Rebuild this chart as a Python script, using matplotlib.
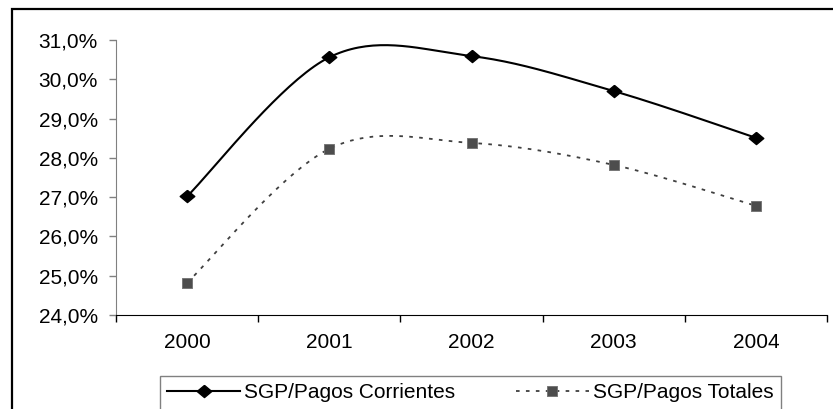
import matplotlib
matplotlib.use("Agg")
import matplotlib.pyplot as plt
import numpy as np
from matplotlib.lines import Line2D
from matplotlib.patches import Rectangle

# values (percent)
years = ["2000", "2001", "2002", "2003", "2004"]
corrientes = [27.02, 30.56, 30.59, 29.70, 28.51]
totales = [24.82, 28.23, 28.38, 27.82, 26.78]
yticks = [24, 25, 26, 27, 28, 29, 30, 31]
labels = ["SGP/Pagos Corrientes", "SGP/Pagos Totales"]

plt.rcParams['font.family'] = ['Liberation Sans', 'DejaVu Sans']


def smooth(y, n=40):
    # excel style smoothed line: bezier segments, control points at 1/6 of neighbour diffs
    pts = np.column_stack([np.arange(len(y), dtype=float), np.asarray(y, dtype=float)])
    ext = np.vstack([pts[0], pts, pts[-1]])
    t = np.linspace(0, 1, n)[:, None]
    out = []
    for i in range(len(pts) - 1):
        p0, p3 = pts[i], pts[i + 1]
        p1 = p0 + (ext[i + 2] - ext[i]) / 6
        p2 = p3 - (ext[i + 3] - ext[i + 1]) / 6
        seg = (1 - t)**3 * p0 + 3 * (1 - t)**2 * t * p1 + 3 * (1 - t) * t**2 * p2 + t**3 * p3
        out.append(seg if i == 0 else seg[1:])
    out = np.vstack(out)
    return out[:, 0], out[:, 1]


diamond = [(0, 1), (1.2, 0), (0, -1), (-1.2, 0), (0, 1)]
square = [(-1.15, -1), (1.15, -1), (1.15, 1), (-1.15, 1), (-1.15, -1)]
dots = (0, (2, 3.5))
fs = 15

fig = plt.figure(figsize=(8.33, 4.09), dpi=100)
ax = fig.add_axes([116 / 833, 1 - 315 / 409, (827 - 116) / 833, (315 - 40) / 409])

x = np.arange(len(years))
sx, sy = smooth(corrientes)
ax.plot(sx, sy, color='black', lw=1.5, zorder=2)
ax.plot(x, corrientes, ls='none', marker=diamond, ms=10.5, color='black', zorder=3)

sx, sy = smooth(totales)
ax.plot(sx, sy, color='#404040', lw=1.3, ls=dots, zorder=2)
ax.plot(x, totales, ls='none', marker=square, ms=7.6, mfc='#4d4d4d', mec='#707070',
        mew=0.6, zorder=3)

ax.set_xlim(-0.5, 4.5)
ax.set_ylim(24, 31)
ax.set_yticks(yticks)
ax.set_yticklabels([f"{v:.1f}%".replace('.', ',') for v in yticks], fontsize=fs)
ax.set_xticks(np.arange(-0.5, 5, 1))
ax.set_xticklabels([])
ax.set_xticks(x, minor=True)
ax.set_xticklabels(years, minor=True, fontsize=fs)

ax.tick_params(axis='x', which='major', length=5, width=1, color='black', direction='out')
ax.tick_params(axis='x', which='minor', length=0, pad=13)
ax.tick_params(axis='y', length=5, width=1, color='#808080', pad=8)

ax.spines['top'].set_visible(False)
ax.spines['right'].set_visible(False)
ax.spines['left'].set_color('#808080')
ax.spines['bottom'].set_color('black')

# outer chart frame, cut off on the right and bottom
fig.patches.append(Rectangle((12 / 833, -0.1), 1.5, 1 - 9 / 409 + 0.1,
                             transform=fig.transFigure, fill=False, lw=1.6, ec='black'))

handles = [
    Line2D([], [], color='black', lw=1.5, marker=diamond, ms=10.5),
    Line2D([], [], color='#404040', lw=1.3, ls=dots, marker=square, ms=7.6,
           mfc='#4d4d4d', mec='#707070', mew=0.6),
]
leg = fig.legend(handles, labels, loc='upper left', ncol=2, mode='expand',
                 bbox_to_anchor=(160 / 833, 0, 621 / 833, 1 - 376 / 409),
                 fontsize=fs, frameon=True, fancybox=False, framealpha=1,
                 edgecolor='#808080', borderpad=0.35, handlelength=3.5,
                 handletextpad=0.2, columnspacing=0.2, borderaxespad=0)
leg.get_frame().set_linewidth(1)

fig.savefig("out.png", dpi=100)
